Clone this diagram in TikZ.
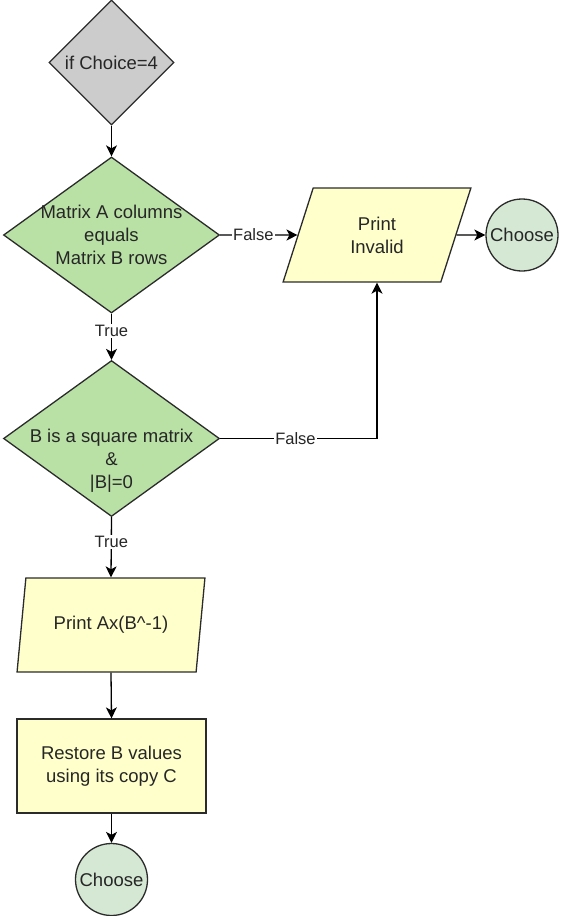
\documentclass[tikz,border=0pt]{standalone}
\usepackage{fontspec}
\setmainfont{Liberation Sans}
\usetikzlibrary{shapes.geometric,arrows.meta}
\definecolor{grayfill}{HTML}{CCCCCC}
\definecolor{greenfill}{HTML}{B9E0A5}
\definecolor{yellowfill}{HTML}{FFFFCC}
\definecolor{circfill}{HTML}{D5E8D4}
\definecolor{strokec}{HTML}{2B2B2B}
\definecolor{textc}{HTML}{262626}
\begin{document}
\begin{tikzpicture}[x=1pt,y=-1pt,
  base/.style={draw=strokec, line width=1.3pt, inner sep=0pt, text=textc,
    font=\fontsize{18.5}{23}\selectfont, align=center},
  decision/.style={base, diamond},
  txt/.style={text=textc, font=\fontsize{18.5}{23}\selectfont, align=center, inner sep=0pt},
  io/.style={base, trapezium, trapezium left angle=71, trapezium right angle=109,
    trapezium stretches=true, fill=yellowfill, minimum height=94pt, minimum width=188pt},
  procbox/.style={base, rectangle, fill=yellowfill, minimum width=189pt, minimum height=94pt},
  term/.style={base, circle, fill=circfill, minimum size=72pt},
  arr/.style={draw=black, line width=1.3pt, -{Stealth[length=11pt,width=11pt,inset=3pt]}},
  lbl/.style={fill=white, inner sep=1pt, text=textc, font=\fontsize{16.5}{20}\selectfont}
]
\useasboundingbox (0,0) rectangle (561,916);

\node[decision, fill=grayfill, minimum width=125pt, minimum height=125pt,
  label={[txt]center:if Choice=4}] (d1) at (111.5,62.5) {};
\node[decision, fill=greenfill, minimum width=216pt, minimum height=156pt,
  label={[txt]center:Matrix A columns\\equals\\Matrix B rows}] (d2) at (111.5,235) {};
\node[decision, fill=greenfill, minimum width=216pt, minimum height=156pt,
  label={[txt, yshift=-22pt]center:B is a square matrix\\\&\\|B|=0}] (d3) at (111.5,438.5) {};
\node[io] (p1) at (377,235) {Print\\Invalid};
\node[term] (c1) at (522,235) {Choose};
\node[io] (p2) at (111,625) {Print Ax(B\^{}-1)};
\node[procbox] (r) at (111.5,766) {Restore B values\\using its copy C};
\node[term] (c2) at (111.5,879.5) {Choose};

\draw[arr] (d1.south) -- (d2.north);
\draw[arr] (d2.east) -- node[lbl, pos=0.43] {False} (p1.west);
\draw[arr] (p1.east) -- (c1.west);
\draw[arr] (d2.south) -- node[lbl, pos=0.37] {True} (d3.north);
\draw[arr] (d3.east) -- node[lbl, pos=0.48] {False} (p1.center |- d3.east) -- (p1.center |- p1.south);
\draw[arr] (d3.south) -- node[lbl, pos=0.41] {True} (p2.center |- p2.north);
\draw[arr] (p2.center |- p2.south) -- (r.north);
\draw[arr] (r.south) -- (c2.north);
\end{tikzpicture}
\end{document}
